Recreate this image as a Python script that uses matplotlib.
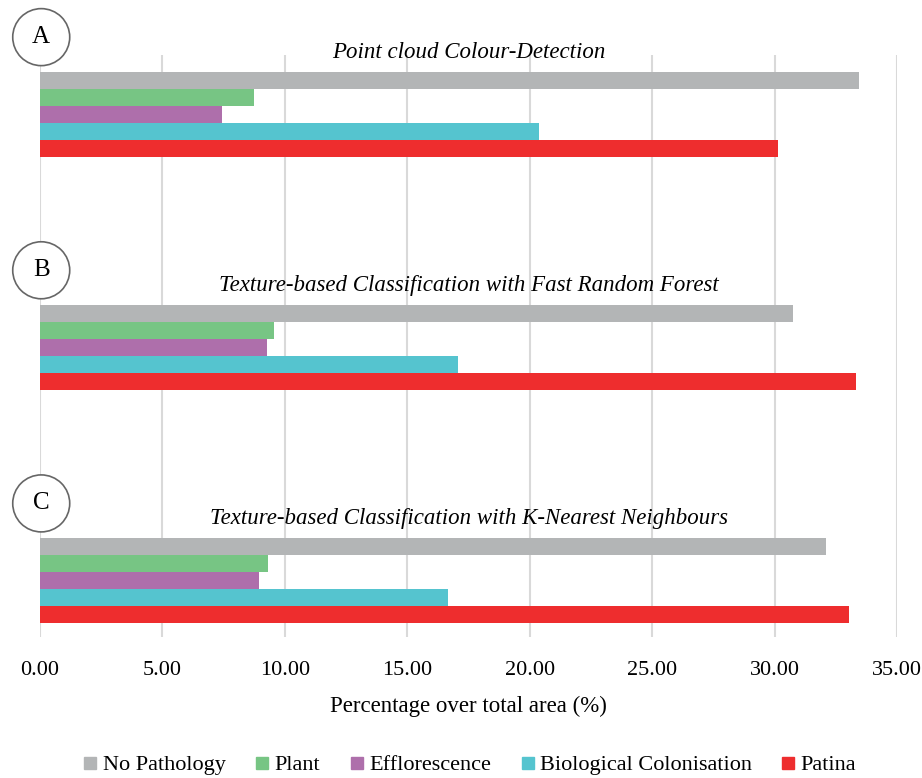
import matplotlib
matplotlib.use("Agg")
import matplotlib.pyplot as plt
import matplotlib.transforms as mtrans
from matplotlib.patches import Circle
from matplotlib.lines import Line2D
from matplotlib.ticker import FormatStrFormatter

plt.rcParams['font.family'] = ['Liberation Serif', 'DejaVu Serif']

categories = ["No Pathology", "Plant", "Efflorescence", "Biological Colonisation", "Patina"]
colors = ["#b3b5b6", "#77c584", "#ae6fab", "#55c4cf", "#ee2d2e"]
panel_letters = ["A", "B", "C"]
panel_titles = ["Point cloud Colour-Detection",
                "Texture-based Classification with Fast Random Forest",
                "Texture-based Classification with K-Nearest Neighbours"]
values_A = [33.45, 8.72, 7.42, 20.36, 30.14]
values_B = [30.77, 9.57, 9.28, 17.06, 33.33]
values_C = [32.12, 9.30, 8.94, 16.67, 33.03]
panels = [values_A, values_B, values_C]
xticks = [0, 5, 10, 15, 20, 25, 30, 35]

fig = plt.figure(figsize=(9.22, 7.78), dpi=100)
ax = fig.add_axes([40/922, 1-637/778, 857/922, 582/778])

group_step = 13.7
for g, vals in enumerate(panels):
    base = g * group_step + 1.5
    for i, (v, c) in enumerate(zip(vals, colors)):
        ax.barh(base + i, v, height=1.0, color=c, zorder=3)
    ax.text(17.5, g * group_step - 0.15, panel_titles[g], ha='center', va='center',
            fontsize=16.5, style='italic', clip_on=False)
    tr = fig.dpi_scale_trans + mtrans.ScaledTranslation(0.05, g * group_step - 1.05, ax.transData)
    circ = Circle((0, 0), 0.285, transform=tr, facecolor='white', edgecolor='#666666',
                  lw=1.2, clip_on=False, zorder=5)
    ax.add_artist(circ)
    ax.text(0.05, g * group_step - 1.05, panel_letters[g], ha='center', va='center',
            fontsize=18, zorder=6, clip_on=False)

ax.set_ylim(34.2, 0)
ax.set_xlim(0, 35)
ax.set_xticks(xticks)
ax.xaxis.set_major_formatter(FormatStrFormatter('%.2f'))
ax.set_yticks([])
for s in ax.spines.values():
    s.set_visible(False)
ax.grid(axis='x', color='#d9d9d9', lw=1.5, zorder=0)
ax.tick_params(axis='x', length=0, pad=17, labelsize=16)
ax.set_xlabel("Percentage over total area (%)", fontsize=16.5, labelpad=12)

handles = [Line2D([], [], marker='s', linestyle='none', markersize=9,
                  markerfacecolor=c, markeredgecolor=c) for c in colors]
fig.legend(handles, categories, loc='center', bbox_to_anchor=(0.508, 1-765/778),
           ncol=5, frameon=False, fontsize=16, handletextpad=0.1,
           columnspacing=1.2, handlelength=0.9)

fig.savefig("out.png", dpi=100)
